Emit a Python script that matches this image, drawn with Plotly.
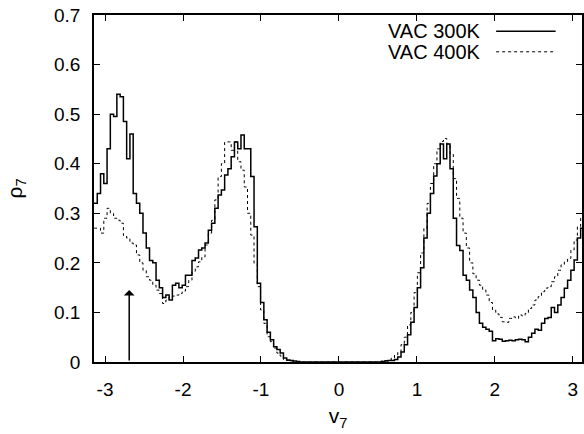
import numpy as np
import plotly.graph_objects as go

# Histogram of v7 (150 bins over [-pi, pi])
n_bins = 150
rho_300K = [
    0.32, 0.34, 0.38, 0.36, 0.43, 0.50, 0.495, 0.54, 0.535, 0.485,
    0.41, 0.46, 0.34, 0.32, 0.30, 0.26, 0.23, 0.205, 0.20, 0.165,
    0.15, 0.13, 0.135, 0.125, 0.155, 0.159, 0.15, 0.155, 0.175, 0.175,
    0.205, 0.21, 0.226, 0.23, 0.24, 0.266, 0.28, 0.31, 0.337, 0.347,
    0.377, 0.39, 0.414, 0.444, 0.43, 0.458, 0.43, 0.43, 0.374, 0.273,
    0.159, 0.12, 0.085, 0.06, 0.045, 0.031, 0.025, 0.018, 0.008, 0.004,
    0.003, 0.002, 0.001, 0, 0, 0, 0, 0, 0, 0,
    0, 0, 0, 0, 0, 0, 0, 0, 0, 0,
    0, 0, 0, 0, 0, 0, 0, 0, 0.001, 0.002,
    0.003, 0.003, 0.005, 0.01, 0.02, 0.035, 0.055, 0.08, 0.11, 0.15,
    0.19, 0.25, 0.30, 0.34, 0.375, 0.40, 0.44, 0.41, 0.44, 0.39,
    0.29, 0.235, 0.225, 0.175, 0.165, 0.145, 0.13, 0.10, 0.078, 0.07,
    0.066, 0.062, 0.043, 0.047, 0.046, 0.042, 0.043, 0.044, 0.043, 0.045,
    0.046, 0.045, 0.041, 0.05, 0.058, 0.066, 0.064, 0.078, 0.088, 0.09,
    0.11, 0.10, 0.115, 0.13, 0.149, 0.165, 0.185, 0.206, 0.25, 0.27,
]
rho_400K = [
    0.27, 0.27, 0.26, 0.29, 0.31, 0.30, 0.29, 0.286, 0.28, 0.255,
    0.25, 0.24, 0.236, 0.216, 0.20, 0.185, 0.172, 0.165, 0.155, 0.145,
    0.138, 0.118, 0.125, 0.131, 0.133, 0.135, 0.138, 0.143, 0.152, 0.165,
    0.183, 0.192, 0.202, 0.212, 0.236, 0.26, 0.286, 0.327, 0.374, 0.40,
    0.444, 0.444, 0.427, 0.444, 0.404, 0.387, 0.353, 0.30, 0.256, 0.199,
    0.152, 0.105, 0.078, 0.051, 0.041, 0.028, 0.018, 0.012, 0.005, 0.003,
    0.002, 0.001, 0, 0, 0, 0, 0, 0, 0, 0,
    0, 0, 0, 0, 0, 0, 0, 0, 0, 0,
    0, 0, 0, 0, 0, 0, 0, 0, 0.002, 0.003,
    0.004, 0.008, 0.014, 0.02, 0.035, 0.05, 0.075, 0.10, 0.14, 0.18,
    0.22, 0.27, 0.32, 0.36, 0.40, 0.43, 0.445, 0.451, 0.44, 0.42,
    0.37, 0.33, 0.29, 0.26, 0.23, 0.20, 0.178, 0.165, 0.155, 0.145,
    0.135, 0.12, 0.105, 0.097, 0.09, 0.081, 0.08, 0.088, 0.091, 0.088,
    0.095, 0.093, 0.098, 0.108, 0.115, 0.125, 0.132, 0.142, 0.149, 0.152,
    0.162, 0.172, 0.185, 0.196, 0.202, 0.209, 0.226, 0.246, 0.273, 0.29,
]
series_names = ["VAC 300K", "VAC 400K"]
x_ticks = [-3, -2, -1, 0, 1, 2, 3]
y_ticks = [0, 0.1, 0.2, 0.3, 0.4, 0.5, 0.6, 0.7]
arrow_x = -2.69
arrow_top = 0.145

width = 2 * np.pi / n_bins
centers = -np.pi + (np.arange(n_bins) + 0.5) * width
# extend to the bin edges so steps reach the borders
x_line = np.concatenate([[-np.pi], centers, [np.pi]])
y300 = [rho_300K[0]] + rho_300K + [rho_300K[-1]]
y400 = [rho_400K[0]] + rho_400K + [rho_400K[-1]]

FONT = "Liberation Sans, Arial, sans-serif"

fig = go.Figure()
fig.add_trace(go.Scatter(x=x_line, y=y400, mode="lines", line_shape="hvh",
                         line=dict(color="black", width=1, dash="dot"),
                         name=series_names[1], showlegend=False))
fig.add_trace(go.Scatter(x=x_line, y=y300, mode="lines", line_shape="hvh",
                         line=dict(color="black", width=1.5),
                         name=series_names[0], showlegend=False))

# legend drawn gnuplot style (text then sample)
leg_y = [0.953, 0.894]
dashes = ["solid", "dot"]
widths = [1.5, 1]
for name, yy, d, w in zip(series_names, leg_y, dashes, widths):
    fig.add_annotation(x=0.797, y=yy, xref="paper", yref="paper", text=name,
                       showarrow=False, xanchor="right", yanchor="middle",
                       font=dict(family=FONT, size=20, color="black"))
    fig.add_shape(type="line", xref="paper", yref="paper", x0=0.824, x1=0.946,
                  y0=yy, y1=yy, line=dict(color="black", width=w, dash=d))

fig.add_annotation(x=arrow_x, y=arrow_top, ax=arrow_x, ay=0, xref="x", yref="y",
                   axref="x", ayref="y", showarrow=True, arrowhead=1,
                   arrowsize=1.2, arrowwidth=1.5, arrowcolor="black", text="")

fig.update_layout(
    width=584, height=434,
    margin=dict(l=94, r=0, t=15, b=72),
    paper_bgcolor="white", plot_bgcolor="white",
    font=dict(family=FONT, size=19, color="black"),
    showlegend=False,
)
fig.update_xaxes(range=[-np.pi, 3.117], tickvals=x_ticks,
                 ticktext=[str(t) for t in x_ticks],
                 ticks="inside", ticklen=6, tickcolor="black",
                 showline=True, linecolor="black", linewidth=1.5, mirror="ticks",
                 showgrid=False, zeroline=False, ticklabelstandoff=9,
                 title=dict(text="v<sub>7</sub>", font=dict(size=21), standoff=10))
fig.update_yaxes(range=[0, 0.7], tickvals=y_ticks,
                 ticktext=["0" if t == 0 else f"{t:.1f}" for t in y_ticks],
                 ticks="inside", ticklen=6, tickcolor="black",
                 showline=True, linecolor="black", linewidth=1.5, mirror="ticks",
                 showgrid=False, zeroline=False, ticklabelstandoff=8,
                 title=dict(text="ρ<sub>7</sub>", font=dict(size=21), standoff=26))

fig.write_html("out.html")
